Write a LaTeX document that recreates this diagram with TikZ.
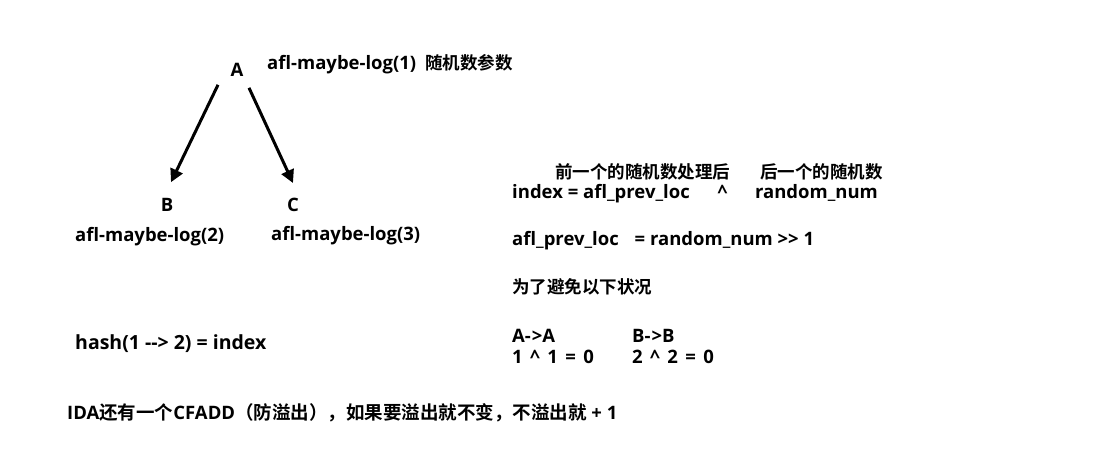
\documentclass[tikz,border=0pt]{standalone}
\usepackage{fontspec}
\setmainfont{Open Sans}[BoldFont={* Bold}]
\newfontfamily\cjk{Noto Sans CJK SC}[BoldFont={* Bold}]
\usetikzlibrary{arrows.meta, positioning}

\tikzset{
  txt/.style={anchor=west, inner sep=0pt, font=\fontsize{18.5}{22}\selectfont\bfseries},
  lbl/.style={inner sep=2pt, font=\fontsize{18.5}{22}\selectfont\bfseries},
  arr/.style={line width=3pt, -{Triangle[length=13pt,width=13pt]}}
}
\newcommand{\zh}[1]{{\cjk\fontsize{17.5}{22}\selectfont #1}}
\newcommand{\zhb}[1]{{\cjk\fontsize{18.5}{22}\selectfont #1}}

\begin{document}
\begin{tikzpicture}[x=1pt, y=-1pt]
  \useasboundingbox (0,0) rectangle (1113,468);
  % tree on the left
  \node[lbl] (A) at (237,70) {A};
  \node[lbl] (B) at (167,205) {B};
  \node[lbl] (C) at (293,205) {C};
  \node[txt] (logA) at (267,64) {afl-maybe-log(1)\hspace{0.5em}\zh{随机数参数}};
  \node[txt] (logB) at (75,237) {afl-maybe-log(2)};
  \node[txt] (logC) at (271,236) {afl-maybe-log(3)};
  \draw[arr] ([xshift=-19pt,yshift=-6pt]A.south) -- ([xshift=4pt,yshift=14pt]B.north);
  \draw[arr] ([xshift=12pt,yshift=-9pt]A.south) -- ([yshift=13pt]C.north);

  % formulas on the right
  \node[txt] (note) at (555,172) {\zh{前一个的随机数处理后\hspace{30pt}后一个的随机数}};
  \node[txt] (idx) at (512,194) {index = afl\_prev\_loc\hspace{1.5em}\^{}\hspace{1.5em}random\_num};
  \node[txt] (prev) at (512,241) {afl\_prev\_loc\hspace{0.6em} = random\_num >{}> 1};
  \node[txt] (avoid) at (512,287) {\zh{为了避免以下状况}};
  \node[txt] (aa) at (512,336) {A-\kern1pt>A};
  \node[txt] (bb) at (632,336) {B-\kern1pt>B};
  \node[txt] (one) at (512,357) {\spaceskip=0.4em 1 \^{} 1 = 0};
  \node[txt] (two) at (632,357) {\spaceskip=0.4em 2 \^{} 2 = 0};

  % bottom lines
  \node[txt, font=\fontsize{19.5}{22}\selectfont\bfseries] (hash) at (75,344) {hash(1 -{}-> 2) = index};
  \node[txt] (ida) at (67,413) {IDA\zhb{还有一个}CFADD\zhb{（防溢出），如果要溢出就不变，不溢出就} + 1};
\end{tikzpicture}
\end{document}
